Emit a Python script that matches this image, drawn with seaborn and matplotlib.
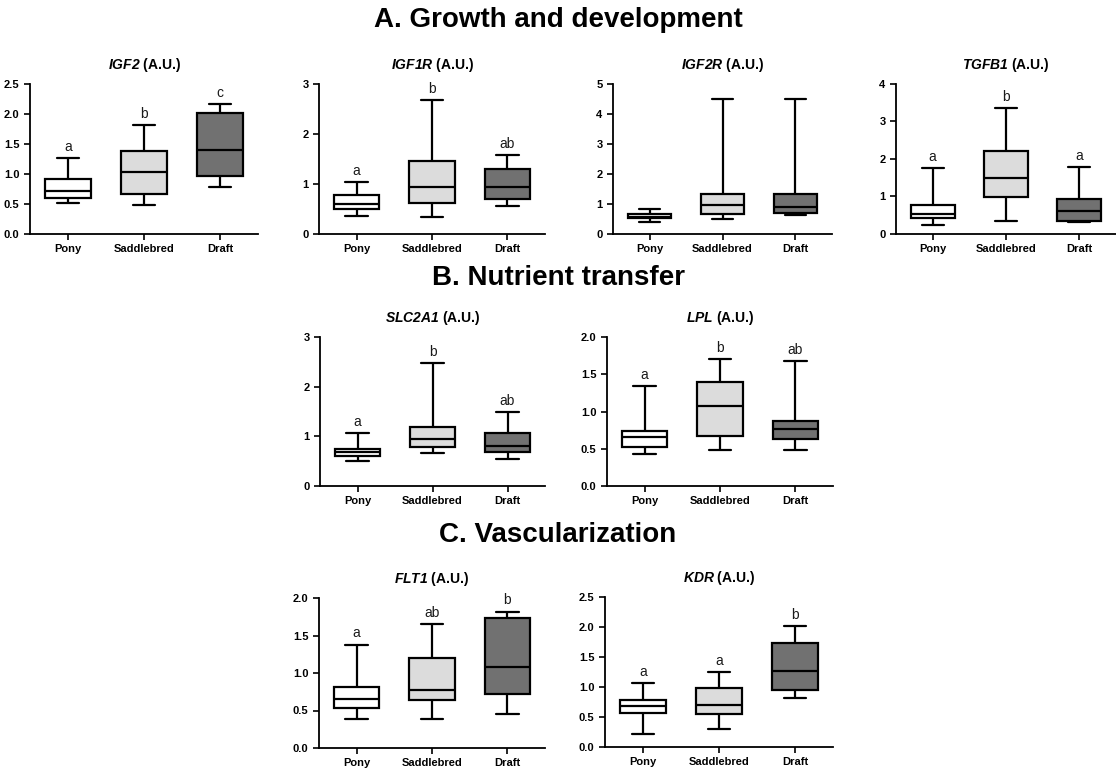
import pandas as pd
import matplotlib
matplotlib.use('Agg')
import matplotlib.pyplot as plt
import seaborn as sns

# box summaries: [min, q1, median, q3, max]
groups = ['Pony', 'Saddlebred', 'Draft']
colors = ['#ffffff', '#dcdcdc', '#717171']

igf2 = {'Pony': [0.52, 0.60, 0.71, 0.92, 1.26],
        'Saddlebred': [0.48, 0.67, 1.04, 1.38, 1.82],
        'Draft': [0.78, 0.96, 1.40, 2.02, 2.16]}
igf1r = {'Pony': [0.36, 0.49, 0.60, 0.78, 1.04],
         'Saddlebred': [0.34, 0.61, 0.94, 1.46, 2.67],
         'Draft': [0.56, 0.70, 0.94, 1.30, 1.58]}
igf2r = {'Pony': [0.41, 0.52, 0.57, 0.67, 0.84],
         'Saddlebred': [0.51, 0.68, 0.97, 1.32, 4.51],
         'Draft': [0.64, 0.71, 0.89, 1.32, 4.51]}
tgfb1 = {'Pony': [0.24, 0.43, 0.54, 0.76, 1.76],
         'Saddlebred': [0.36, 0.98, 1.49, 2.20, 3.35],
         'Draft': [0.32, 0.36, 0.60, 0.93, 1.78]}
slc2a1 = {'Pony': [0.51, 0.61, 0.69, 0.74, 1.07],
          'Saddlebred': [0.66, 0.79, 0.94, 1.18, 2.48],
          'Draft': [0.54, 0.69, 0.80, 1.06, 1.48]}
lpl = {'Pony': [0.43, 0.53, 0.66, 0.74, 1.34],
       'Saddlebred': [0.48, 0.67, 1.08, 1.40, 1.70],
       'Draft': [0.48, 0.63, 0.76, 0.87, 1.68]}
flt1 = {'Pony': [0.39, 0.53, 0.66, 0.82, 1.38],
        'Saddlebred': [0.39, 0.64, 0.78, 1.20, 1.65],
        'Draft': [0.45, 0.72, 1.08, 1.74, 1.82]}
kdr = {'Pony': [0.21, 0.57, 0.69, 0.79, 1.07],
       'Saddlebred': [0.30, 0.55, 0.70, 0.98, 1.25],
       'Draft': [0.82, 0.95, 1.26, 1.74, 2.01]}

# significance letters
igf2_letters = ['a', 'b', 'c']
igf1r_letters = ['a', 'b', 'ab']
igf2r_letters = ['', '', '']
tgfb1_letters = ['a', 'b', 'a']
slc2a1_letters = ['a', 'b', 'ab']
lpl_letters = ['a', 'b', 'ab']
flt1_letters = ['a', 'ab', 'b']
kdr_letters = ['a', 'a', 'b']

sns.set_style('ticks')
plt.rcParams['font.family'] = ['Liberation Sans', 'DejaVu Sans']
plt.rcParams['font.weight'] = 'bold'
plt.rcParams['text.color'] = 'black'
plt.rcParams['mathtext.fontset'] = 'custom'
plt.rcParams['mathtext.rm'] = 'Liberation Sans:bold'
plt.rcParams['mathtext.bfit'] = 'Liberation Sans:italic:bold'

W, H = 1116, 769
fig = plt.figure(figsize=(W / 100, H / 100), dpi=100)


def add_panel(gene, stats, letters, ytop, ystep, left, width, top, bottom):
    ax = fig.add_axes([left / W, 1 - bottom / H, width / W, (bottom - top) / H])
    rows = []
    for g in groups:
        for v in stats[g]:
            rows.append({'group': g, 'value': v})
    df = pd.DataFrame(rows)
    sns.boxplot(data=df, x='group', y='value', hue='group', order=groups,
                hue_order=groups, palette=colors, whis=(0, 100), width=0.6,
                linecolor='black', linewidth=1.6, legend=False, ax=ax)
    ax.set_xlim(-0.5, 2.5)
    ax.set_ylim(0, ytop)
    n = int(round(ytop / ystep))
    ticks = [i * ystep for i in range(n + 1)]
    ax.set_yticks(ticks)
    if ystep < 1:
        ax.set_yticklabels([f'{t:.1f}' for t in ticks])
    else:
        ax.set_yticklabels([f'{t:.0f}' for t in ticks])
    ax.set_xlabel('')
    ax.set_ylabel('')
    ax.tick_params(axis='both', labelsize=8, width=1.2, length=4,
                   color='black', labelcolor='black')
    for s in ['left', 'bottom']:
        ax.spines[s].set_linewidth(1.3)
        ax.spines[s].set_color('black')
    sns.despine(ax=ax)
    ax.set_title(r'$\mathbfit{' + gene + r'}$ (A.U.)', fontsize=10,
                 fontweight='bold', pad=11, color='black')
    for i, g in enumerate(groups):
        if letters[i]:
            ax.annotate(letters[i], (i, stats[g][4]), xytext=(0, 3),
                        textcoords='offset points', ha='center', va='bottom',
                        fontsize=10, fontweight='normal', color='#1a1a1a')
    return ax


add_panel('IGF2', igf2, igf2_letters, 2.5, 0.5, 30, 228, 84, 234)
add_panel('IGF1R', igf1r, igf1r_letters, 3, 1, 319, 226, 84, 234)
add_panel('IGF2R', igf2r, igf2r_letters, 5, 1, 613, 219, 84, 234)
add_panel('TGFB1', tgfb1, tgfb1_letters, 4, 1, 896, 220, 84, 234)
add_panel('SLC2A1', slc2a1, slc2a1_letters, 3, 1, 320, 225, 337, 486)
add_panel('LPL', lpl, lpl_letters, 2.0, 0.5, 607, 226, 337, 486)
add_panel('FLT1', flt1, flt1_letters, 2.0, 0.5, 319, 226, 598, 748)
add_panel('KDR', kdr, kdr_letters, 2.5, 0.5, 605, 228, 597, 747)

fig.text(0.5, 1 - 20 / H, 'A. Growth and development', ha='center', va='center',
         fontsize=20, fontweight='bold')
fig.text(0.5, 1 - 278 / H, 'B. Nutrient transfer', ha='center', va='center',
         fontsize=20, fontweight='bold')
fig.text(0.5, 1 - 535 / H, 'C. Vascularization', ha='center', va='center',
         fontsize=20, fontweight='bold')

fig.savefig('out.png', dpi=100)
